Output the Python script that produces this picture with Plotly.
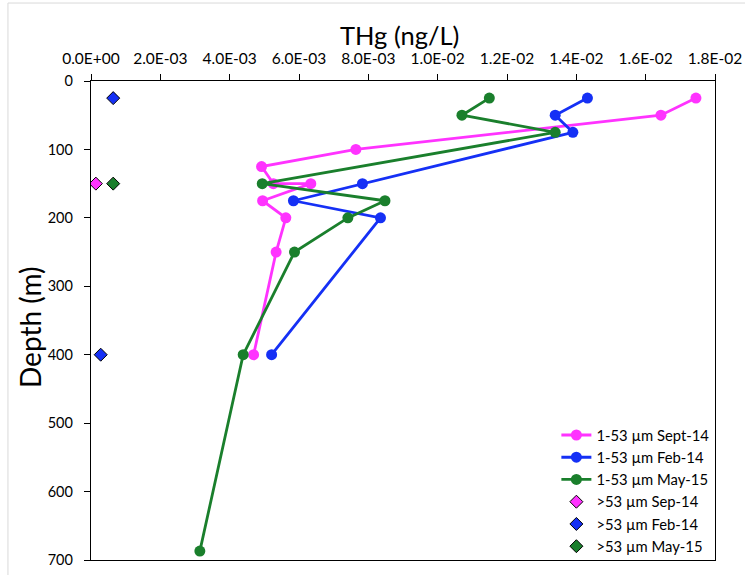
import plotly.graph_objects as go

# ---- data ----
sep14_depth = [25, 50, 100, 125, 150, 150, 175, 200, 250, 400]
sep14_thg = [0.01745, 0.01644, 0.00764, 0.00492, 0.00526, 0.00634, 0.00495, 0.00562, 0.00534, 0.00469]

feb14_depth = [25, 50, 75, 150, 175, 200, 400]
feb14_thg = [0.01432, 0.01339, 0.01390, 0.00783, 0.00584, 0.00835, 0.00521]

may15_depth = [25, 50, 75, 150, 175, 200, 250, 400, 687]
may15_thg = [0.01149, 0.01070, 0.01339, 0.00494, 0.00848, 0.00741, 0.00587, 0.00439, 0.00314]

big_sep14_depth = [150]
big_sep14_thg = [0.00014]
big_feb14_depth = [25, 400]
big_feb14_thg = [0.00064, 0.00028]
big_may15_depth = [150]
big_may15_thg = [0.00064]

x_tickvals = [0, 0.002, 0.004, 0.006, 0.008, 0.010, 0.012, 0.014, 0.016, 0.018]
x_ticktext = ["0.0E+00", "2.0E-03", "4.0E-03", "6.0E-03", "8.0E-03",
              "1.0E-02", "1.2E-02", "1.4E-02", "1.6E-02", "1.8E-02"]

MAGENTA = "#FF33FF"
BLUE = "#1530F5"
GREEN = "#1A7F2C"
FONT = "Lato, Carlito, Calibri, sans-serif"

fig = go.Figure()

line_series = [
    ("1-53 µm Sept-14", sep14_thg, sep14_depth, MAGENTA),
    ("1-53 µm Feb-14", feb14_thg, feb14_depth, BLUE),
    ("1-53 µm May-15", may15_thg, may15_depth, GREEN),
]
for name, xs, ys, c in line_series:
    fig.add_trace(go.Scatter(
        x=xs, y=ys, name=name, mode="lines+markers",
        line=dict(color=c, width=2.8),
        marker=dict(color=c, size=11, symbol="circle"),
        legendgroup=name,
    ))

dia_series = [
    (">53 µm Sep-14", big_sep14_thg, big_sep14_depth, MAGENTA),
    (">53 µm Feb-14", big_feb14_thg, big_feb14_depth, BLUE),
    (">53 µm May-15", big_may15_thg, big_may15_depth, GREEN),
]
for name, xs, ys, c in dia_series:
    fig.add_trace(go.Scatter(
        x=xs, y=ys, name=name, mode="markers",
        marker=dict(color=c, size=10, symbol="diamond",
                    line=dict(color="black", width=1)),
        legendgroup=name,
    ))

fig.update_layout(
    width=745, height=575,
    margin=dict(l=91, r=30, t=81, b=15, autoexpand=False),
    paper_bgcolor="white", plot_bgcolor="white",
    font=dict(family=FONT, color="black", size=13),
    showlegend=True,
    legend=dict(
        x=0.999, xanchor="right", y=-0.006, yanchor="bottom",
        bgcolor="rgba(0,0,0,0)", borderwidth=0,
        font=dict(family=FONT, size=14.8, color="black"),
        tracegroupgap=0, itemwidth=30,
    ),
    xaxis=dict(
        side="top", range=[0, 0.018], automargin=False,
        tickvals=x_tickvals, ticktext=x_ticktext,
        ticks="outside", ticklen=6, tickwidth=1, tickcolor="black",
        showline=True, linecolor="black", linewidth=1.3, mirror=True,
        showgrid=False, zeroline=False,
        tickfont=dict(family=FONT, size=15.5, color="black"),
        ticklabelstandoff=4,
    ),
    yaxis=dict(
        range=[700, 0], tick0=0, dtick=100, automargin=False,
        ticks="outside", ticklen=6, tickwidth=1, tickcolor="black",
        showline=True, linecolor="black", linewidth=1.3, mirror=True,
        showgrid=False, zeroline=False,
        tickfont=dict(family=FONT, size=14.5, color="black"),
        ticklabelstandoff=8,
    ),
    annotations=[
        dict(text="THg (ng/L)", xref="paper", yref="paper", x=0.4936, y=1.0961,
             xanchor="center", yanchor="middle", showarrow=False,
             font=dict(family=FONT, size=25.5, color="black")),
        dict(text="Depth (m)", xref="paper", yref="paper", x=-0.0978, y=0.4864,
             xanchor="center", yanchor="middle", showarrow=False, textangle=-90,
             font=dict(family=FONT, size=28, color="black")),
    ],
    shapes=[dict(type="rect", xref="paper", yref="paper",
                 x0=-0.1331, x1=1.2, y0=-0.2, y1=1.1628,
                 line=dict(color="#D9D9D9", width=1), fillcolor="rgba(0,0,0,0)",
                 layer="below")],
)

fig.write_html("out.html")
